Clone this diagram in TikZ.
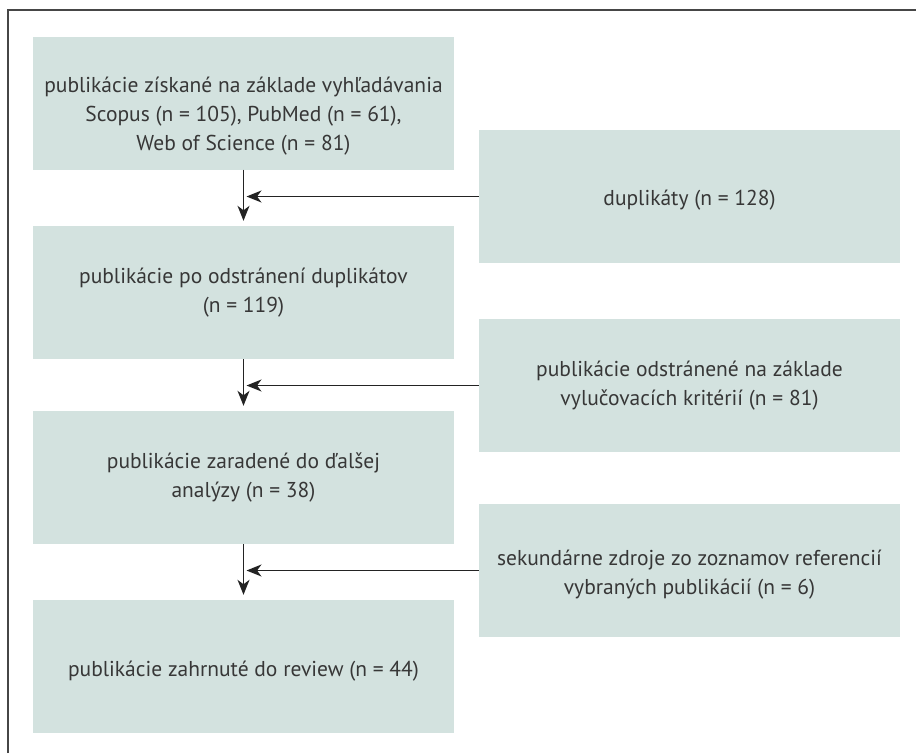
\documentclass[tikz,border=0pt]{standalone}
\usepackage{fontspec}
\setmainfont{PT Sans}
\usetikzlibrary{arrows.meta}
\definecolor{boxfill}{RGB}{211,226,223}
\definecolor{txt}{RGB}{55,55,55}
\definecolor{framec}{RGB}{70,70,70}
\definecolor{arrc}{RGB}{35,35,35}
\begin{document}
\begin{tikzpicture}[x=1pt,y=-1pt,
  box/.style={fill=boxfill, draw=none, minimum width=421pt, minimum height=133pt, inner sep=0pt},
  boxtext/.style={align=center, text=txt, font=\fontsize{21.5}{29}\selectfont, inner sep=0pt},
  arr/.style={-{Stealth[length=15pt,width=12pt,inset=4.5pt]}, line width=1.4pt, draw=arrc}]
\useasboundingbox (0,0) rectangle (916,753);
\draw[framec, line width=1.5pt] (8,753) -- (8,10) -- (916,10);
% boxes
\node[box] (b1) at (243.5,103) {};
\node[box] (b2) at (243.5,292.5) {};
\node[box] (b3) at (243.5,477.5) {};
\node[box] (b4) at (243.5,666.5) {};
\node[box] (r1) at (689.5,196.5) {};
\node[box] (r2) at (689.5,385.5) {};
\node[box] (r3) at (689.5,570.5) {};
% texts
\node[boxtext] (b1t) at ([yshift=-13pt]b1.center) {publikácie získané na základe vyhľadávania\\Scopus (n = 105), PubMed (n = 61),\\Web of Science (n = 81)};
\node[boxtext] (b2t) at (b2.center) {publikácie po odstránení duplikátov\\(n = 119)};
\node[boxtext] (b3t) at (b3.center) {publikácie zaradené do ďalšej\\analýzy (n = 38)};
\node[boxtext] (b4t) at ([yshift=-5pt]b4.center) {publikácie zahrnuté do review (n = 44)};
\node[boxtext] (r1t) at ([yshift=-4pt]r1.center) {duplikáty (n = 128)};
\node[boxtext] (r2t) at (r2.center) {publikácie odstránené na základe\\vylučovacích kritérií (n = 81)};
\node[boxtext] (r3t) at ([yshift=-4pt]r3.center) {sekundárne zdroje zo zoznamov referencií\\vybraných publikácií (n = 6)};
% arrows
\draw[arr] (b1.south) -- ([yshift=5pt]b2.north);
\draw[arr] (b2.south) -- ([yshift=5pt]b3.north);
\draw[arr] (b3.south) -- ([yshift=5pt]b4.north);
\coordinate (v1) at (b1.south |- r1.west);
\coordinate (v2) at (b2.south |- r2.west);
\coordinate (v3) at (b3.south |- r3.west);
\draw[arr] (r1.west) -- ([xshift=3pt]v1);
\draw[arr] (r2.west) -- ([xshift=3pt]v2);
\draw[arr] (r3.west) -- ([xshift=3pt]v3);
\end{tikzpicture}
\end{document}
